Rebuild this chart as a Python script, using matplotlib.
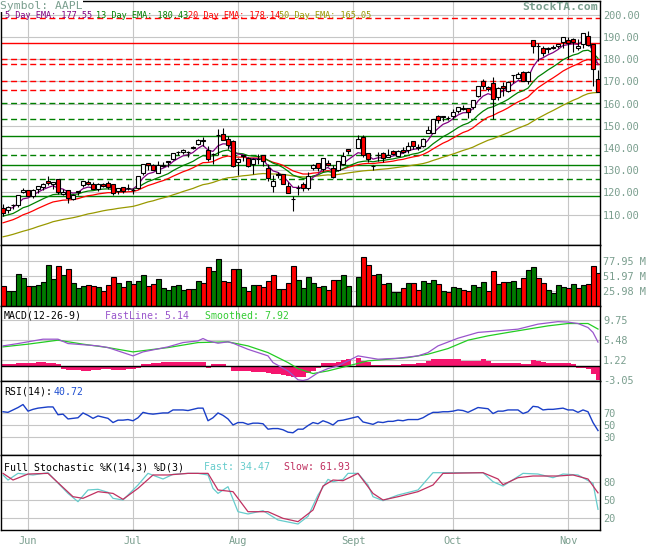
import numpy as np
import matplotlib
matplotlib.use("Agg")
import matplotlib.pyplot as plt

plt.rcParams['font.family'] = ['DejaVu Sans Mono']

# ---------------- data (AAPL, 24 May - 9 Nov, one slot per trading day, slot 70 = empty) ----------------
opens = [113.1, 112.0, 114.4, 114.3, 120.1, 121.1, 118.6, 121.4, 122.3, 125.0,
         124.0, 126.0, 119.4, 121.2, 117.2, 120.4, 123.3, 124.7, 123.9, 121.7,
         123.9, 124.2, 124.0, 120.6, 122.4, 122.0, 121.05, 122.0, 128.8, 133.1,
         132.4, 128.9, 132.1, 133.9, 135.0, 138.4, 138.3, 138.2, 140.3, 141.65,
         143.3, 138.9, 137.35, 145.9, 146.2, 144.3, 143.0, 133.6, 136.65, 135.3,
         132.9, 134.9, 136.8, 131.1, 123.1, 128.3, 128.3, 122.7, 117.0, 122.0,
         124.0, 122.2, 131.2, 133.1, 130.5, 133.4, 131.0, 129.9, 132.7, 139.5,
         None, 139.9, 145.0, 137.8, 132.0, 137.0, 137.9, 136.0, 138.8, 136.6,
         139.0, 139.1, 143.0, 140.15, 141.1, 146.7, 146.8, 154.5, 153.8, 153.4,
         154.6, 156.55, 157.8, 158.0, 158.4, 163.5, 170.2, 167.55, 169.5, 163.0,
         168.0, 165.5, 172.7, 171.5, 174.2, 170.35, 188.6, 185.8, 184.9, 185.3,
         185.45, 186.2, 187.6, 188.6, 189.2, 185.3, 187.05, 190.6, 186.7, 171.15]
highs = [115.0, 113.8, 114.9, 118.9, 122.2, 121.2, 121.7, 122.7, 124.1, 127.6,
         124.9, 126.15, 121.7, 121.2, 119.45, 120.75, 125.2, 125.4, 124.5, 124.3,
         124.45, 125.0, 124.0, 122.0, 122.4, 124.0, 122.1, 127.4, 133.0, 133.3,
         132.7, 134.2, 133.7, 134.1, 137.85, 138.8, 139.6, 138.6, 140.8, 144.2,
         145.2, 141.0, 137.9, 148.5, 148.9, 145.45, 143.5, 135.4, 137.0, 136.0,
         135.3, 137.2, 136.9, 133.0, 127.75, 129.35, 128.3, 124.9, 118.5, 123.5,
         124.5, 129.0, 132.75, 133.3, 135.4, 134.7, 132.4, 134.2, 138.25, 139.65,
         None, 145.7, 145.8, 137.9, 132.3, 138.0, 138.3, 139.4, 139.0, 139.0,
         140.6, 142.85, 143.2, 141.8, 144.65, 149.85, 153.2, 155.0, 154.5, 154.6,
         157.4, 158.6, 159.2, 158.1, 161.6, 167.9, 171.1, 167.9, 171.9, 167.3,
         169.6, 170.2, 173.0, 174.2, 174.6, 174.9, 188.6, 187.2, 185.9, 185.4,
         186.6, 187.0, 190.1, 190.1, 189.4, 189.0, 192.0, 192.7, 186.9, 175.1]
lows = [109.3, 110.5, 112.7, 113.5, 119.8, 118.3, 117.3, 119.9, 121.0, 123.2,
        121.5, 119.3, 118.9, 115.4, 116.4, 119.0, 122.5, 123.3, 121.4, 120.5,
        122.4, 121.6, 118.7, 119.3, 119.9, 121.1, 119.3, 121.5, 127.9, 130.2,
        129.9, 128.6, 131.3, 131.4, 134.5, 136.7, 137.5, 135.9, 139.65, 141.2,
        140.9, 134.15, 132.6, 136.96, 143.8, 139.6, 131.5, 127.8, 134.15, 131.5,
        128.3, 132.6, 132.0, 125.1, 120.3, 126.5, 123.7, 119.65, 111.6, 118.8,
        120.5, 121.0, 130.3, 129.8, 129.8, 132.1, 126.6, 129.5, 132.3, 137.4,
        None, 139.8, 136.1, 133.7, 130.0, 133.95, 133.75, 135.75, 136.65, 136.2,
        137.6, 137.8, 139.4, 139.3, 140.3, 146.65, 146.8, 151.25, 152.3, 152.75,
        152.9, 155.9, 157.0, 153.5, 157.7, 163.0, 166.7, 165.6, 153.2, 161.8,
        163.5, 165.15, 169.2, 171.05, 170.0, 168.9, 182.8, 179.2, 181.7, 182.9,
        184.7, 185.0, 184.95, 180.0, 183.5, 184.2, 185.3, 186.1, 167.8, 165.2]
closes = [110.7, 113.6, 114.4, 118.8, 121.2, 118.4, 121.3, 122.7, 123.6, 124.1,
          124.5, 120.2, 120.4, 117.5, 118.75, 120.5, 125.1, 123.7, 121.55, 123.9,
          123.0, 122.3, 119.65, 121.9, 120.6, 122.0, 121.3, 127.2, 132.75, 132.3,
          130.3, 132.35, 132.4, 134.1, 137.7, 138.1, 138.9, 138.1, 140.0, 143.75,
          143.7, 134.9, 137.3, 146.0, 143.85, 141.4, 131.8, 135.0, 136.5, 131.85,
          135.25, 135.0, 134.0, 126.4, 125.0, 127.8, 124.0, 119.9, 117.05, 122.1,
          122.2, 127.6, 132.5, 131.1, 135.3, 132.25, 126.8, 134.1, 136.25, 138.5,
          None, 144.2, 136.8, 135.0, 131.8, 136.7, 135.5, 136.85, 137.2, 138.8,
          138.4, 140.9, 140.8, 140.3, 144.15, 148.3, 153.2, 152.8, 154.5, 153.5,
          156.3, 158.45, 157.9, 156.2, 161.45, 167.9, 167.9, 166.8, 162.2, 167.25,
          167.0, 169.6, 172.75, 173.5, 170.4, 174.4, 186.2, 185.9, 182.8, 184.7,
          185.1, 187.0, 190.0, 187.4, 187.9, 186.2, 191.8, 186.3, 175.5, 165.4]
volume_m = [34, 25.5, 25.5, 54.4, 47.4, 34, 34, 35.9, 40.6, 70.5,
            46.2, 68.8, 53.2, 63, 38.8, 30.1, 34, 35.9, 34.6, 32,
            26.2, 35.9, 49.7, 38.8, 32, 42.7, 37.5, 43.3, 53.2, 34.6,
            37.5, 46.2, 30.1, 27.2, 34, 35.9, 27.2, 28.9, 28.3, 43.3,
            38.8, 66.5, 60.2, 80.3, 42, 40.6, 64.3, 64.3, 32, 25.5,
            35.3, 35.3, 32, 42.7, 53.2, 28.9, 28.9, 38.8, 68.8, 44.4,
            30.1, 49.1, 39.9, 32, 34, 27.2, 44.4, 44.4, 53.2, 34,
            None, 49.1, 83.8, 70.5, 53.2, 54.9, 37, 38.8, 24.4, 23.4,
            30.1, 38.8, 38.8, 27.2, 42, 38.8, 43.7, 37, 25.5, 23.4,
            32, 30.1, 27.2, 25.5, 35, 32, 40.6, 25.5, 60.2, 37,
            40.6, 40.6, 42, 30.1, 47.4, 61.9, 66.5, 47.4, 38.8, 27.2,
            21.5, 35, 32, 30.1, 37, 30.1, 35, 37, 68.8, 57.3]

ema5 = [112.0, 112.5, 113.2, 115.0, 117.1, 117.5, 118.8, 120.1, 121.3, 122.2,
        123.0, 122.0, 121.5, 120.2, 119.7, 120.0, 121.7, 122.4, 122.1, 122.7,
        122.8, 122.6, 121.6, 121.7, 121.3, 121.6, 121.5, 123.4, 126.5, 128.4,
        129.0, 130.1, 130.9, 132.0, 133.9, 135.3, 136.5, 137.0, 138.0, 139.9,
        141.2, 139.1, 138.5, 141.0, 141.9, 141.8, 138.4, 137.3, 137.0, 135.3,
        135.3, 135.2, 134.8, 132.0, 129.7, 129.0, 127.4, 124.9, 122.3, 122.2,
        122.2, 124.0, 126.8, 128.2, 130.6, 131.2, 129.7, 131.2, 132.9, 134.7,
        None, 137.9, 137.5, 136.7, 135.0, 135.6, 135.6, 136.0, 136.4, 137.2,
        137.6, 138.7, 139.4, 139.7, 141.2, 143.5, 146.7, 148.8, 150.7, 151.6,
        153.2, 154.9, 155.9, 156.0, 157.8, 161.2, 163.4, 164.5, 163.8, 164.9,
        165.6, 166.9, 168.9, 170.4, 170.4, 171.7, 176.5, 179.7, 180.7, 182.0,
        183.0, 184.4, 186.2, 186.6, 187.0, 186.7, 188.4, 187.7, 183.6, 177.55]
ema13 = [109.3, 109.9, 110.5, 111.7, 113.1, 113.8, 114.9, 116.0, 117.1, 118.1,
         119.0, 119.2, 119.4, 119.1, 119.1, 119.3, 120.1, 120.6, 120.8, 121.2,
         121.5, 121.6, 121.3, 121.4, 121.3, 121.4, 121.4, 122.2, 123.7, 124.9,
         125.7, 126.6, 127.5, 128.4, 129.8, 131.0, 132.1, 133.0, 134.0, 135.4,
         136.6, 136.3, 136.5, 137.8, 138.7, 139.1, 138.0, 137.6, 137.4, 136.6,
         136.4, 136.2, 135.9, 134.5, 133.2, 132.4, 131.2, 129.6, 127.8, 127.0,
         126.3, 126.5, 127.4, 127.9, 129.0, 129.4, 129.0, 129.7, 130.7, 131.8,
         None, 133.6, 134.0, 134.2, 133.8, 134.2, 134.4, 134.8, 135.1, 135.6,
         136.0, 136.7, 137.3, 137.7, 138.6, 140.0, 141.9, 143.5, 145.1, 146.3,
         147.7, 149.2, 150.4, 151.2, 152.6, 154.8, 156.6, 158.0, 158.6, 159.7,
         160.7, 161.9, 163.5, 165.0, 165.8, 167.0, 169.8, 172.1, 173.6, 175.2,
         176.6, 178.1, 179.8, 180.9, 181.9, 182.5, 183.8, 184.1, 182.9, 180.43]
ema20 = [106.3, 107.0, 107.7, 108.7, 109.9, 110.7, 111.7, 112.8, 113.8, 114.8,
         115.7, 116.1, 116.5, 116.6, 116.8, 117.2, 117.9, 118.5, 118.8, 119.3,
         119.6, 119.9, 119.9, 120.1, 120.1, 120.3, 120.4, 121.0, 122.1, 123.1,
         123.8, 124.6, 125.3, 126.2, 127.3, 128.3, 129.3, 130.1, 131.1, 132.3,
         133.4, 133.5, 133.9, 135.0, 135.9, 136.4, 136.0, 135.9, 135.9, 135.5,
         135.5, 135.5, 135.3, 134.5, 133.6, 133.0, 132.2, 131.0, 129.7, 129.0,
         128.3, 128.3, 128.7, 128.9, 129.5, 129.8, 129.5, 129.9, 130.5, 131.3,
         None, 132.5, 132.9, 133.1, 133.0, 133.3, 133.5, 133.8, 134.1, 134.6,
         134.9, 135.5, 136.0, 136.4, 137.1, 138.2, 139.6, 140.9, 142.2, 143.2,
         144.5, 145.8, 147.0, 147.8, 149.1, 150.9, 152.5, 153.9, 154.7, 155.9,
         156.9, 158.1, 159.5, 160.8, 161.8, 163.0, 165.2, 167.2, 168.7, 170.2,
         171.6, 173.1, 174.7, 175.9, 177.0, 177.9, 179.2, 179.9, 179.5, 178.14]
ema50 = [100.0, 100.5, 101.1, 101.8, 102.5, 103.1, 103.8, 104.6, 105.3, 106.0,
         106.8, 107.3, 107.8, 108.2, 108.6, 109.1, 109.7, 110.3, 110.7, 111.2,
         111.7, 112.1, 112.4, 112.8, 113.1, 113.4, 113.7, 114.3, 115.0, 115.7,
         116.2, 116.9, 117.5, 118.1, 118.9, 119.6, 120.4, 121.1, 121.8, 122.7,
         123.5, 123.9, 124.5, 125.3, 126.0, 126.6, 126.8, 127.2, 127.5, 127.7,
         128.0, 128.3, 128.5, 128.4, 128.3, 128.3, 128.1, 127.8, 127.4, 127.2,
         127.0, 127.0, 127.2, 127.4, 127.7, 127.9, 127.8, 128.1, 128.4, 128.8,
         None, 129.4, 129.7, 129.9, 130.0, 130.3, 130.5, 130.7, 131.0, 131.3,
         131.6, 131.9, 132.3, 132.6, 133.0, 133.6, 134.4, 135.1, 135.9, 136.6,
         137.3, 138.1, 138.9, 139.6, 140.4, 141.5, 142.5, 143.5, 144.2, 145.1,
         146.0, 146.9, 147.9, 148.9, 149.8, 150.7, 152.1, 153.4, 154.6, 155.8,
         156.9, 158.1, 159.3, 160.4, 161.5, 162.4, 163.6, 164.5, 164.9, 165.05]

# support / resistance lines on the price panel
res_levels = [198.5, 187.5, 180.3, 178.0, 170.3, 166.3]
res_solid = [False, True, False, False, False, False]
sup_levels = [160.5, 153.0, 145.5, 137.0, 132.4, 126.0, 118.4]
sup_solid = [False, False, True, False, True, False, True]

# MACD(12-26-9)
macd_hist = [0.4, 0.43, 0.45, 0.6, 0.65, 0.7, 0.75, 0.8, 0.8, 0.77,
             0.7, 0.4, -0.64, -0.8, -0.85, -0.9, -1.0, -1.0, -0.9, -0.85,
             -0.7, -0.7, -0.8, -0.85, -0.85, -0.6, -0.55, -0.3, 0.5, 0.56,
             0.75, 0.77, 0.8, 0.85, 0.9, 0.92, 0.95, 0.95, 1.0, 1.0,
             0.95, -0.3, 0.4, 0.45, 0.43, 0.05, -1.0, -1.05, -1.1, -1.13,
             -1.15, -1.15, -1.3, -1.4, -1.6, -1.7, -1.8, -2.06, -2.2, -2.4,
             -2.3, -1.4, -1.0, -0.3, 0.6, 0.77, 0.77, 0.9, 1.28, 1.5,
             None, 1.7, 1.13, 0.8, 0.3, 0.28, 0.3, 0.3, 0.32, 0.35,
             0.5, 0.56, 0.56, 0.6, 0.6, 1.13, 1.45, 1.5, 1.5, 1.49,
             1.48, 1.45, 1.15, 1.13, 1.1, 1.13, 1.49, 1.13, 0.77, 0.64,
             0.64, 0.6, 0.64, 0.64, 0.4, 0.4, 1.28, 1.2, 0.8, 0.77,
             0.75, 0.77, 0.7, 0.7, 0.4, -0.3, -0.35, -0.64, -1.57, -2.9]
fast_day = [0, 3, 8, 11, 13, 19, 21, 26, 28, 33, 36, 39, 40, 41, 43, 45, 46, 49, 53, 54,
            57, 59, 60, 61, 63, 65, 67, 69, 71, 73, 75, 79, 83, 85, 87, 91, 95, 99, 103, 107,
            111, 113, 115, 117, 118, 119]
macd_fast = [4.33, 4.83, 5.76, 5.76, 4.83, 4.33, 3.97, 2.2, 3.05, 4.12, 5.04, 5.4, 5.9, 5.4, 4.9,
             5.2, 4.9, 3.6, 2.2, 0.77, -1.0, -2.9, -3.05, -2.8, -1.4, -0.5, 0.06, 1.13, 2.2, 1.84,
             1.49, 1.7, 2.2, 2.9, 4.33, 5.97, 7.2, 7.54, 7.9, 8.97, 9.5, 9.4, 9.1, 8.24, 7.2, 5.14]
slow_day = [0, 5, 11, 16, 21, 26, 33, 39, 45, 49, 53, 57, 59, 62, 65, 69, 73, 77, 81, 85,
            89, 93, 97, 101, 105, 109, 113, 117, 119]
macd_slow = [4.12, 4.7, 5.55, 4.7, 3.97, 3.05, 3.97, 5.04, 5.19, 4.33, 2.9, 0.77, -0.5, -1.57,
             -1.0, 0.06, 1.13, 1.49, 1.84, 2.56, 3.76, 5.55, 6.47, 7.2, 7.9, 8.6, 9.1, 9.1, 7.92]

# RSI(14)
rsi = [72, 71, 75, 79, 84, 73, 76, 78, 79, 80,
       80, 67, 68, 60, 61, 62, 70, 66, 61, 65,
       63, 61, 54, 58, 58, 59, 57, 62, 71, 69,
       68, 69, 70, 70, 75, 75, 75, 74, 76, 78,
       78, 57, 62, 70, 66, 60, 50, 54, 54, 51,
       53, 53, 52, 43, 44, 44, 42, 38, 37, 43,
       43, 49, 54, 52, 57, 54, 50, 57, 58, 60,
       None, 64, 55, 53, 51, 55, 54, 56, 56, 58,
       57, 59, 59, 59, 62, 67, 71, 71, 72, 72,
       73, 75, 74, 71, 75, 79, 78, 77, 69, 73,
       73, 75, 75, 75, 69, 72, 81, 80, 75, 76,
       76, 77, 78, 75, 75, 71, 75, 72, 54, 40.72]

# Full Stochastic %K(14,3) %D(3)
stf_day = [0, 1, 3, 6, 9, 13, 15, 17, 19, 21, 22, 24, 25, 27, 29, 32, 34, 37, 39, 41,
           42, 43, 45, 47, 49, 52, 55, 59, 61, 63, 65, 66, 68, 69, 71, 73, 74, 76, 79, 83,
           86, 90, 96, 98, 100, 104, 107, 110, 112, 115, 118, 119]
stoch_fast = [91.7, 83.3, 94.4, 91.7, 95.5, 61, 47.2, 66.7, 67.8, 62.8, 52.8, 50, 58.3, 75,
              94.4, 85, 92.8, 94.4, 94.4, 91.7, 69.4, 61, 72.2, 30.5, 26.7, 32.2, 16.7, 10,
              22.8, 58.3, 84.4, 80.5, 84.4, 94.4, 94.4, 75, 55.5, 48.9, 58.3, 66.7, 95.5, 95.5,
              95.5, 80.5, 73.3, 94.4, 93.3, 87.2, 93.3, 91.7, 77.8, 34.47]
sts_day = [0, 2, 5, 9, 14, 16, 19, 22, 24, 27, 30, 33, 37, 41, 43, 46, 49, 53, 56, 59,
           62, 64, 66, 68, 71, 74, 76, 79, 83, 86, 88, 96, 99, 100, 103, 106, 111, 114, 117, 119]
stoch_slow = [94.4, 83.3, 93.3, 94.4, 55.5, 52.8, 63.9, 61, 51.1, 69.4, 91.7, 91.7, 94.4, 94.4,
              66.7, 63.9, 30.5, 30.5, 19.4, 13.9, 33.3, 73.3, 83.3, 82.2, 94.4, 61, 50, 55.5,
              63.9, 75, 94.4, 95.5, 85, 75.5, 87.2, 90, 90, 91.7, 85, 61.93]

months = ['Jun', 'Jul', 'Aug', 'Sept', 'Oct', 'Nov']
month_slot = [5, 26, 47, 70, 90, 113]

# ---------------- figure ----------------
W, H = 655, 546
fig = plt.figure(figsize=(W / 100, H / 100), dpi=100)
lab_col = '#7a9e8e'


def panel(top, bottom):
    return fig.add_axes([0.5 / W, 1 - bottom / H, 599.5 / W, (bottom - top) / H])


def style(ax, ylim, yt, ylab):
    ax.set_xlim(-0.5, 119.4)
    ax.set_ylim(*ylim)
    ax.set_xticks(month_slot)
    ax.set_xticklabels([])
    ax.set_yticks(yt)
    ax.set_yticklabels(ylab)
    ax.yaxis.tick_right()
    ax.tick_params(length=0, labelsize=7.4, labelcolor=lab_col, pad=2.2)
    ax.grid(True, color='#c6c6c6', lw=0.8)
    ax.set_axisbelow(True)
    for s in ax.spines.values():
        s.set_linewidth(1.0)


def ptext(x, y, s, **kw):
    fig.text(x / W, 1 - y / H, s, va='center', ha='left', **kw)


x = np.arange(len(closes))
o = np.array(opens, dtype=float)
hi = np.array(highs, dtype=float)
lo = np.array(lows, dtype=float)
c = np.array(closes, dtype=float)
ok = ~np.isnan(c)

# price panel
ax_p = panel(0.5, 245)
p_ticks = list(range(110, 201, 10))
style(ax_p, (96.3, 206.5), p_ticks, ['%.2f' % t for t in p_ticks])
for lvl, solid in zip(res_levels, res_solid):
    ln = ax_p.axhline(lvl, color='#ff0000', lw=1.0, zorder=2)
    if not solid:
        ln.set_dashes((4.3, 2.6))
for lvl, solid in zip(sup_levels, sup_solid):
    ln = ax_p.axhline(lvl, color='#008000', lw=1.0, zorder=2)
    if not solid:
        ln.set_dashes((4.3, 2.6))

for series, col in [(ema50, '#999900'), (ema20, '#ff0000'), (ema13, '#008000'), (ema5, '#800080')]:
    arr = np.array(series, dtype=float)
    ax_p.plot(x[ok], arr[ok], color=col, lw=0.9, zorder=3)

ax_p.vlines(x[ok], lo[ok], hi[ok], color='k', lw=0.8, zorder=4)
body_lo = np.minimum(o, c)
body_h = np.maximum(np.abs(c - o), 0.15)
body_col = np.where(c >= o, 'white', '#ff0000')
ax_p.bar(x[ok], body_h[ok], bottom=body_lo[ok], width=0.8, color=body_col[ok],
         edgecolor='k', lw=0.8, zorder=5)

# volume panel
ax_v = panel(245, 305.7)
style(ax_v, (0, 105.1), [25.98, 51.97, 77.95], ['25.98 M', '51.97 M', '77.95 M'])
vol = np.array(volume_m, dtype=float)
prev = np.concatenate([[np.inf], c[:-1]])
prev[71] = c[69]
vcol = np.where(c >= prev, '#007a00', '#ff0000')
ax_v.bar(x[ok], vol[ok], width=1.0, color=vcol[ok], edgecolor='k', lw=0.8, zorder=3)

# MACD panel
ax_m = panel(305.7, 380.5)
style(ax_m, (-3.05, 12.9), [-3.05, 1.22, 5.48, 9.75], ['-3.05', '1.22', '5.48', '9.75'])
hist = np.array(macd_hist, dtype=float)
ax_m.bar(x[ok], hist[ok], width=1.0, color='#f5156e', lw=0, zorder=2)
ax_m.axhline(0, color='k', lw=1.0, zorder=3)
ax_m.plot(slow_day, macd_slow, color='#22cc22', lw=0.9, zorder=4)
ax_m.plot(fast_day, macd_fast, color='#9955cc', lw=0.9, zorder=4)

# RSI panel
ax_r = panel(380.5, 455)
style(ax_r, (0, 124), [30, 50, 70], ['30', '50', '70'])
rsi_a = np.array(rsi, dtype=float)
ax_r.plot(x[ok], rsi_a[ok], color='#1a3fc8', lw=1.0, zorder=3)

# stochastic panel
ax_s = panel(455, 530)
style(ax_s, (0, 125), [20, 50, 80], ['20', '50', '80'])
ax_s.plot(stf_day, stoch_fast, color='#66cccc', lw=0.9, zorder=3)
ax_s.plot(sts_day, stoch_slow, color='#c03060', lw=0.9, zorder=3)
ax_s.set_xticklabels(months)
ax_s.tick_params(axis='x', pad=4.5)

# texts
ptext(0, 6, 'Symbol: AAPL', fontsize=8.2, color=lab_col,
      bbox=dict(facecolor='white', edgecolor='none', pad=0.6), zorder=10)
ptext(522, 7, 'StockTA.com', fontsize=8.2, color=lab_col, fontweight='bold', zorder=10)
ema_leg = [('5 Day EMA: 177.55', '#800080', 5), ('13 Day EMA: 180.43', '#008000', 96),
           ('20 Day EMA: 178.14', '#ff0000', 188), ('50 Day EMA: 165.05', '#999900', 279)]
for s, col, px in ema_leg:
    ptext(px, 15.5, s, fontsize=6.1, color=col, zorder=10)

ptext(4, 316, 'MACD(12-26-9)', fontsize=7.1, color='k')
ptext(105, 316, 'FastLine: 5.14', fontsize=7.1, color='#9955cc')
ptext(205, 316, 'Smoothed: 7.92', fontsize=7.1, color='#33cc33')
ptext(4, 392, 'RSI(14):', fontsize=7.1, color='k')
ptext(54, 392, '40.72', fontsize=7.1, color='#1f4fd0')
ptext(4, 467.5, 'Full Stochastic %K(14,3) %D(3)', fontsize=7.1, color='k')
ptext(204, 467.5, 'Fast: 34.47', fontsize=7.1, color='#66cccc')
ptext(284, 467.5, 'Slow: 61.93', fontsize=7.1, color='#c03060')

fig.savefig('out.png', dpi=100, facecolor='white')
